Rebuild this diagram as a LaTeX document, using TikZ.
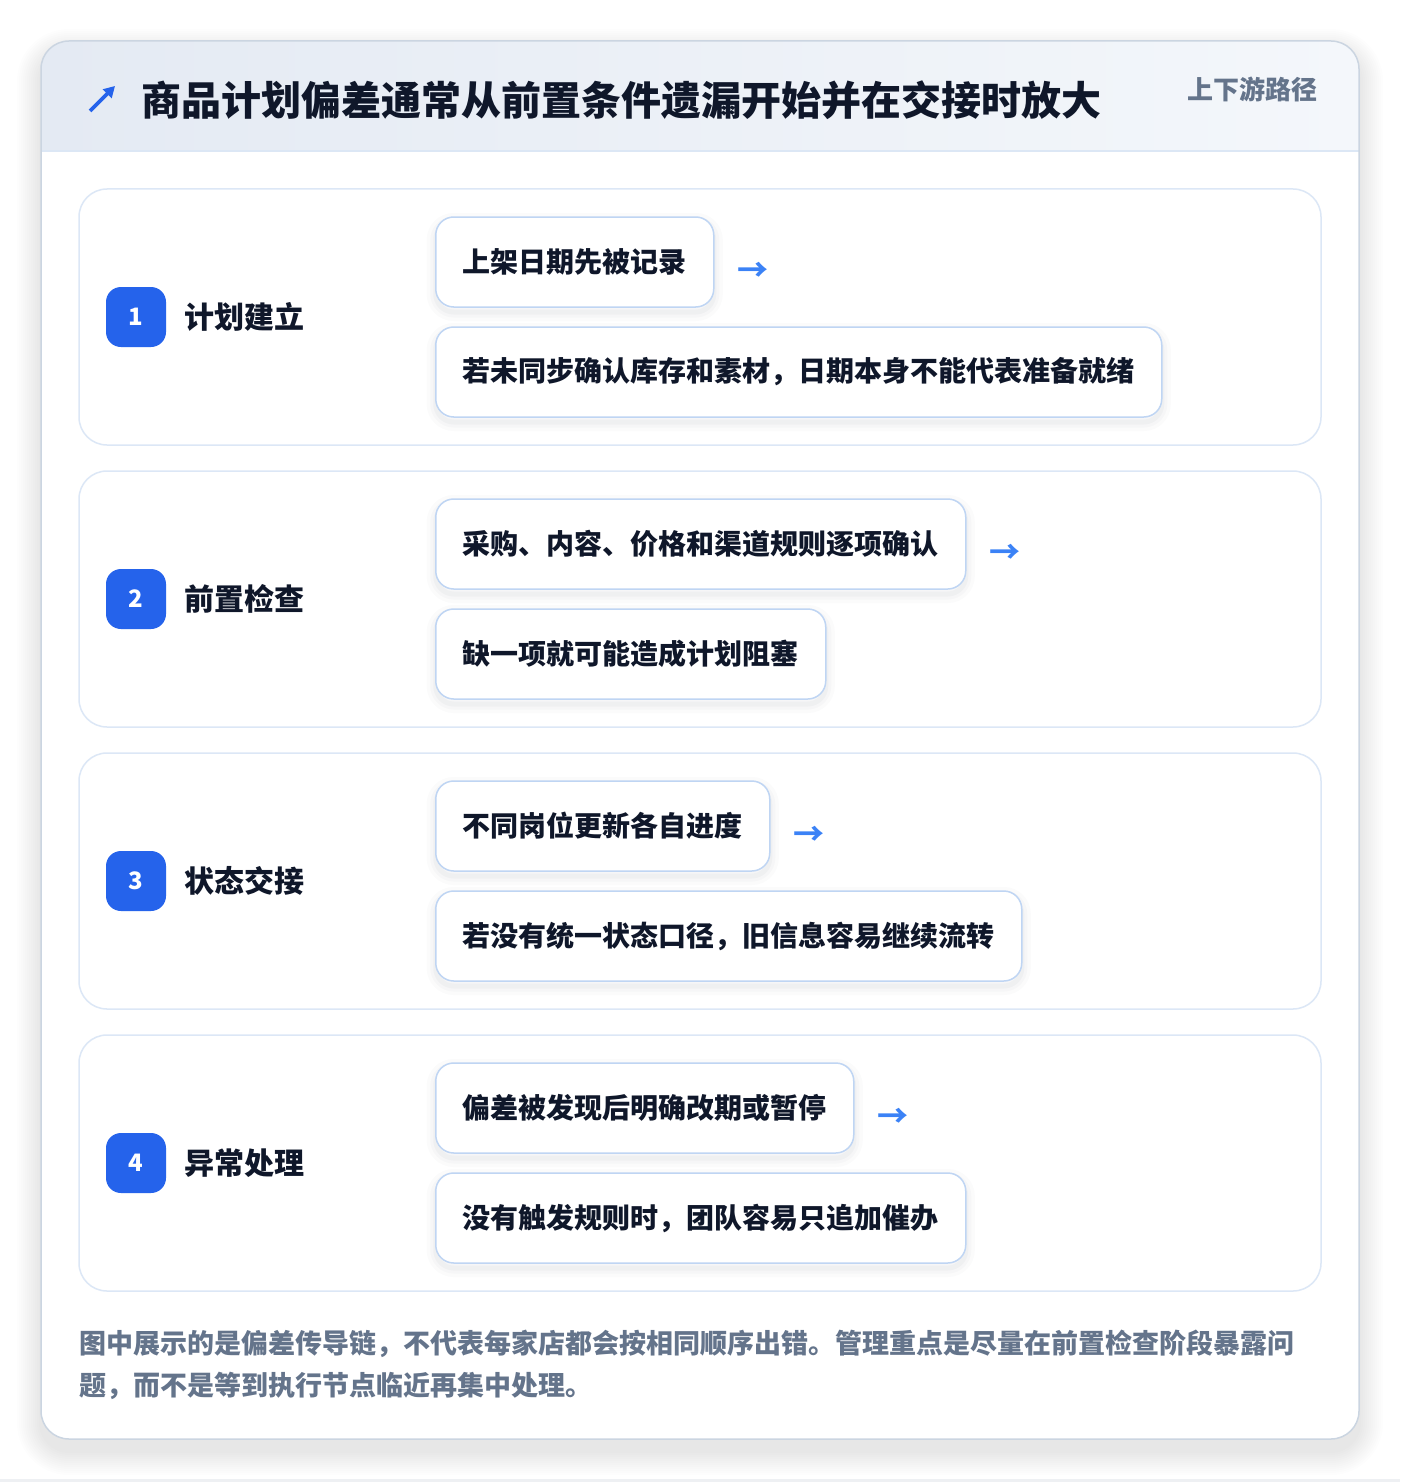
\documentclass[tikz,border=0pt]{standalone}
\usepackage{fontspec}
\setmainfont{Noto Sans CJK SC}
\usetikzlibrary{arrows.meta}
\definecolor{titlec}{HTML}{0F172A}
\definecolor{grayc}{HTML}{64748B}
\definecolor{badgec}{HTML}{2563EB}
\definecolor{arrowc}{HTML}{3B82F6}
\definecolor{secborder}{HTML}{DCE7F6}
\definecolor{boxborder}{HTML}{BFD5F3}
\definecolor{cardborder}{HTML}{CBD5E1}
\definecolor{hdrL}{HTML}{E4EAF3}
\definecolor{hdrR}{HTML}{F4F7FB}
\definecolor{hdrline}{HTML}{DCE7F5}
\definecolor{stripc}{HTML}{EEF0F3}
\definecolor{shadowc}{HTML}{334155}
\tikzset{
  softshadow/.style={
    preaction={draw=shadowc, line width=18pt, draw opacity=0.018, transform canvas={yshift=-5pt}},
    preaction={draw=shadowc, line width=11pt, draw opacity=0.022, transform canvas={yshift=-5pt}},
    preaction={draw=shadowc, line width=5pt, draw opacity=0.03, transform canvas={yshift=-5pt}}},
  section/.style={draw=secborder, line width=1.5pt, fill=white, rounded corners=28pt,
    minimum width=1242pt, minimum height=256pt, inner sep=0pt},
  badge/.style={fill=badgec, rounded corners=15pt, minimum width=60pt, minimum height=60pt,
    inner sep=0pt, text=white, font=\fontsize{24}{28}\selectfont\bfseries},
  steplabel/.style={anchor=west, inner sep=0pt, text=titlec, font=\fontsize{30}{36}\selectfont\bfseries},
  itembox/.style={anchor=west, draw=boxborder, line width=1.5pt, fill=white, rounded corners=18pt,
    minimum height=90pt, inner xsep=27pt, inner ysep=0pt, text=titlec,
    font=\fontsize{28}{34}\selectfont\bfseries, softshadow},
  flowarrow/.style={anchor=west, inner sep=0pt, text=arrowc, font=\fontsize{31}{34}\selectfont\bfseries},
}
\begin{document}
\begin{tikzpicture}[x=1pt,y=-1pt]
\useasboundingbox (0,0) rectangle (1400,1482);
\fill[white] (0,0) rectangle (1400,1482);
\fill[stripc] (0,1479) rectangle (1400,1482);
% outer card shadow
\foreach \i in {1,...,12}{
  \fill[shadowc, opacity=0.006, rounded corners=28pt+2*\i pt]
    (41-2*\i,41-2*\i+12) rectangle (1359+2*\i,1439+2*\i+12);
}
% outer card
\path[fill=white, rounded corners=28pt] (41,41) rectangle (1359,1439);
\begin{scope}
  \clip[rounded corners=28pt] (41,41) rectangle (1359,1439);
  \shade[left color=hdrL, right color=hdrR] (41,41) rectangle (1359,151);
\end{scope}
\draw[hdrline, line width=1.5pt] (41,151) -- (1359,151);
\path[draw=cardborder, line width=1.5pt, rounded corners=28pt] (41,41) rectangle (1359,1439);
% header
\coordinate (iconA) at (90,111);
\coordinate (iconB) at (115,86);
\draw[badgec, line width=3.6pt, -{Triangle[length=11pt,width=12pt]}] (iconA) -- (iconB);
\node[anchor=west, inner sep=0pt, text=titlec, font=\fontsize{40}{46}\selectfont\bfseries] (title) at (141,100) {商品计划偏差通常从前置条件遗漏开始并在交接时放大};
\node[anchor=east, inner sep=0pt, text=grayc, font=\fontsize{26}{30}\selectfont\bfseries] (tag) at (1318,89) {上下游路径};
% sections
\node[section] (s1) at (700,317) {};
\node[section] (s2) at (700,599) {};
\node[section] (s3) at (700,881) {};
\node[section] (s4) at (700,1163) {};
% section 1
\node[badge] (b1) at (136,317) {1};
\node[steplabel] (l1) at (184,317) {计划建立};
\node[itembox] (p1a) at (435,262) {上架日期先被记录};
\node[itembox] (p1b) at (435,372) {若未同步确认库存和素材，日期本身不能代表准备就绪};
\node[flowarrow] (a1) at ([xshift=23pt,yshift=-10pt]p1a.east) {→};
% section 2
\node[badge] (b2) at (136,599) {2};
\node[steplabel] (l2) at (184,599) {前置检查};
\node[itembox] (p2a) at (435,544) {采购、内容、价格和渠道规则逐项确认};
\node[itembox] (p2b) at (435,654) {缺一项就可能造成计划阻塞};
\node[flowarrow] (a2) at ([xshift=23pt,yshift=-10pt]p2a.east) {→};
% section 3
\node[badge] (b3) at (136,881) {3};
\node[steplabel] (l3) at (184,881) {状态交接};
\node[itembox] (p3a) at (435,826) {不同岗位更新各自进度};
\node[itembox] (p3b) at (435,936) {若没有统一状态口径，旧信息容易继续流转};
\node[flowarrow] (a3) at ([xshift=23pt,yshift=-10pt]p3a.east) {→};
% section 4
\node[badge] (b4) at (136,1163) {4};
\node[steplabel] (l4) at (184,1163) {异常处理};
\node[itembox] (p4a) at (435,1108) {偏差被发现后明确改期或暂停};
\node[itembox] (p4b) at (435,1218) {没有触发规则时，团队容易只追加催办};
\node[flowarrow] (a4) at ([xshift=23pt,yshift=-10pt]p4a.east) {→};
% footer
\node[anchor=north west, inner sep=0pt, align=left, text=grayc, font=\fontsize{27}{42}\selectfont\bfseries] (note) at (79,1330)
  {图中展示的是偏差传导链，不代表每家店都会按相同顺序出错。管理重点是尽量在前置检查阶段暴露问\\题，而不是等到执行节点临近再集中处理。};
\end{tikzpicture}
\end{document}
